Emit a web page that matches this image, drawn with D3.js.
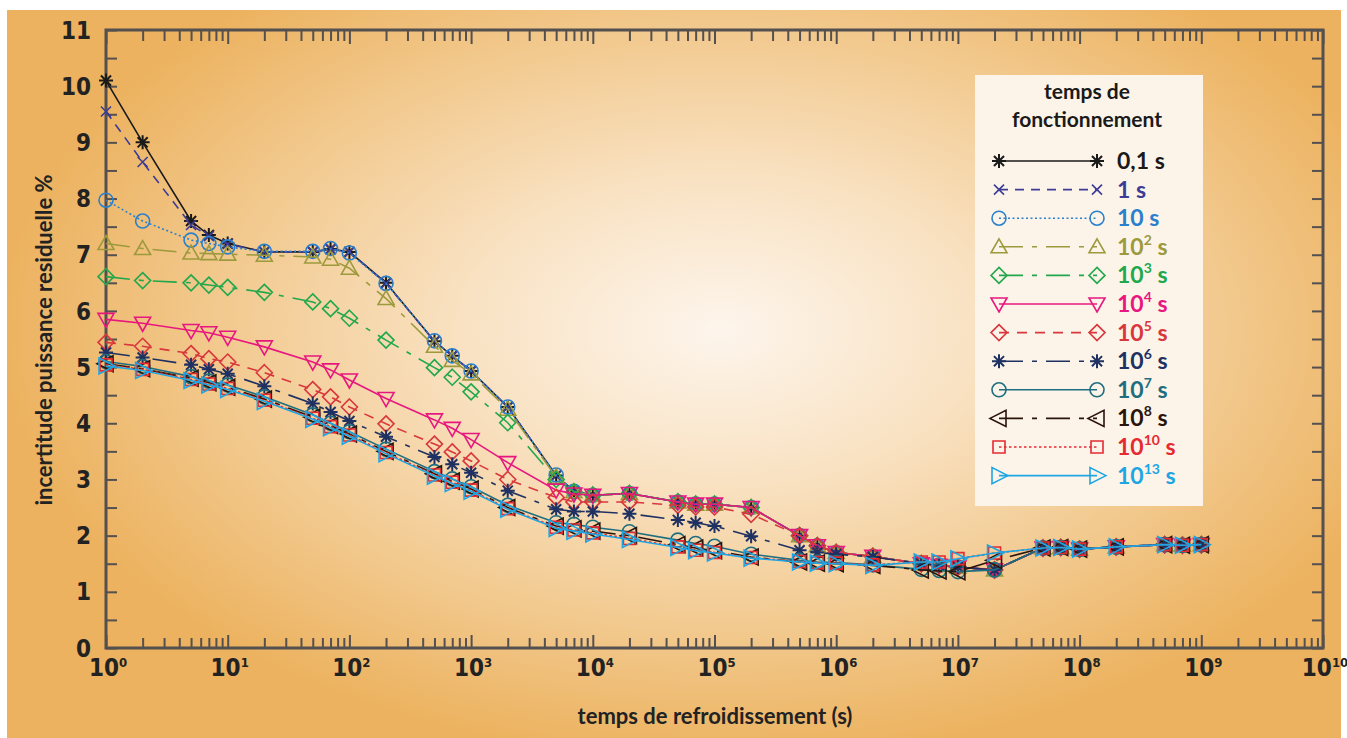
<!DOCTYPE html>
<html>
<head>
<meta charset="utf-8">
<script src="https://cdn.jsdelivr.net/npm/d3@7"></script>
<style>
  html, body { margin: 0; padding: 0; background: #fff; }
  svg { display: block; }
  .tick-lbl { font-family: "Liberation Sans Narrow", "DejaVu Sans Condensed", sans-serif; font-stretch: condensed; }
</style>
</head>
<body>
<div id="canvas"></div>
<script>
// cooling times (s)
const coolTimes = [1, 2, 5, 7, 10, 20, 50, 70, 100, 200, 500, 700, 1e3, 2e3, 5e3, 7e3, 1e4, 2e4, 5e4, 7e4,
  1e5, 2e5, 5e5, 7e5, 1e6, 2e6, 5e6, 7e6, 1e7, 2e7, 5e7, 7e7, 1e8, 2e8, 5e8, 7e8, 1e9];

// residual power uncertainty (%) for each operating time
const s01 = [10.1, 9.0, 7.6, 7.35, 7.2, 7.05, 7.05, 7.1, 7.05, 6.5, 5.46, 5.2, 4.93, 4.29, 3.07, 2.79, 2.72, 2.75, 2.6, 2.56,
  2.56, 2.5, 2.0, 1.82, 1.7, 1.63, 1.5, 1.47, 1.44, 1.39, 1.78, 1.79, 1.76, 1.8, 1.84, 1.83, 1.84];
const s1 = [9.55, 8.65, 7.53, 7.33, 7.19, 7.05, 7.05, 7.1, 7.05, 6.49, 5.46, 5.2, 4.93, 4.29, 3.07, 2.79, 2.72, 2.75, 2.6, 2.56,
  2.56, 2.5, 2.0, 1.82, 1.7, 1.63, 1.5, 1.47, 1.44, 1.39, 1.78, 1.79, 1.76, 1.8, 1.84, 1.83, 1.84];
const s10 = [7.97, 7.6, 7.26, 7.2, 7.14, 7.06, 7.06, 7.11, 7.03, 6.49, 5.47, 5.2, 4.93, 4.29, 3.08, 2.79, 2.72, 2.75, 2.6, 2.56,
  2.56, 2.5, 2.0, 1.82, 1.7, 1.63, 1.5, 1.47, 1.44, 1.39, 1.78, 1.79, 1.76, 1.8, 1.84, 1.83, 1.84];
const s1e2 = [7.2, 7.11, 7.03, 7.02, 7.01, 6.99, 6.96, 6.92, 6.76, 6.22, 5.37, 5.12, 4.88, 4.25, 3.04, 2.78, 2.72, 2.75, 2.6, 2.56,
  2.56, 2.5, 2.0, 1.82, 1.7, 1.63, 1.5, 1.47, 1.44, 1.39, 1.78, 1.79, 1.76, 1.8, 1.84, 1.83, 1.84];
const s1e3 = [6.61, 6.54, 6.5, 6.46, 6.42, 6.33, 6.16, 6.04, 5.87, 5.48, 4.99, 4.82, 4.56, 4.01, 3.0, 2.78, 2.72, 2.75, 2.6, 2.56,
  2.56, 2.5, 2.0, 1.82, 1.7, 1.63, 1.5, 1.47, 1.44, 1.39, 1.78, 1.79, 1.76, 1.8, 1.84, 1.83, 1.84];
const s1e4 = [5.85, 5.78, 5.65, 5.61, 5.53, 5.36, 5.09, 4.95, 4.77, 4.44, 4.06, 3.91, 3.71, 3.3, 2.81, 2.74, 2.72, 2.75, 2.6, 2.56,
  2.56, 2.5, 2.0, 1.82, 1.7, 1.63, 1.5, 1.47, 1.44, 1.39, 1.78, 1.79, 1.76, 1.8, 1.84, 1.83, 1.84];
const s1e5 = [5.44, 5.37, 5.24, 5.15, 5.09, 4.9, 4.6, 4.47, 4.29, 3.99, 3.63, 3.49, 3.33, 3.0, 2.68, 2.6, 2.6, 2.6, 2.54, 2.51,
  2.51, 2.38, 2.0, 1.82, 1.7, 1.63, 1.5, 1.47, 1.44, 1.39, 1.78, 1.79, 1.76, 1.8, 1.84, 1.83, 1.84];
const s1e6 = [5.26, 5.17, 5.04, 4.96, 4.88, 4.66, 4.35, 4.2, 4.04, 3.76, 3.4, 3.27, 3.12, 2.8, 2.47, 2.43, 2.43, 2.39, 2.28, 2.23,
  2.17, 1.99, 1.74, 1.7, 1.67, 1.62, 1.5, 1.47, 1.44, 1.39, 1.78, 1.79, 1.76, 1.8, 1.84, 1.83, 1.84];
const s1e7 = [5.1, 5.01, 4.83, 4.75, 4.68, 4.47, 4.15, 4.0, 3.85, 3.54, 3.14, 3.01, 2.87, 2.54, 2.23, 2.2, 2.15, 2.07, 1.92, 1.86,
  1.81, 1.67, 1.56, 1.53, 1.52, 1.48, 1.4, 1.38, 1.36, 1.39, 1.78, 1.79, 1.76, 1.8, 1.84, 1.83, 1.84];
const s1e8 = [5.06, 4.97, 4.8, 4.72, 4.64, 4.43, 4.11, 3.96, 3.81, 3.5, 3.1, 2.97, 2.83, 2.5, 2.17, 2.12, 2.08, 2.0, 1.84, 1.78,
  1.73, 1.62, 1.53, 1.51, 1.5, 1.47, 1.39, 1.37, 1.36, 1.56, 1.78, 1.79, 1.76, 1.8, 1.84, 1.83, 1.84];
const s1e10 = [5.04, 4.96, 4.78, 4.7, 4.62, 4.41, 4.09, 3.94, 3.79, 3.48, 3.08, 2.95, 2.81, 2.48, 2.15, 2.1, 2.05, 1.95, 1.8, 1.74,
  1.7, 1.61, 1.54, 1.52, 1.51, 1.48, 1.53, 1.53, 1.59, 1.69, 1.78, 1.79, 1.76, 1.8, 1.84, 1.83, 1.84];
const s1e13 = [5.02, 4.94, 4.76, 4.68, 4.6, 4.39, 4.07, 3.92, 3.77, 3.46, 3.06, 2.93, 2.79, 2.47, 2.13, 2.08, 2.03, 1.93, 1.79, 1.73,
  1.69, 1.6, 1.53, 1.51, 1.5, 1.47, 1.53, 1.53, 1.59, 1.69, 1.78, 1.79, 1.76, 1.8, 1.84, 1.83, 1.84];

// legend labels: base + exponent
const labelBase = ["0,1", "1", "10", "10", "10", "10", "10", "10", "10", "10", "10", "10"];
const labelExp = ["", "", "", "2", "3", "4", "5", "6", "7", "8", "10", "13"];

const yTicks = [0, 1, 2, 3, 4, 5, 6, 7, 8, 9, 10, 11];
const xDecades = [0, 1, 2, 3, 4, 5, 6, 7, 8, 9, 10];

// styles
const series = [
  { values: s01, color: "#1a1a1a", dash: null, sym: "star" },
  { values: s1, color: "#3c3c96", dash: "9,7", sym: "cross" },
  { values: s10, color: "#2a80cc", dash: "2,2.5", sym: "circle" },
  { values: s1e2, color: "#9c9a3c", dash: "24,9,5,9", sym: "triUp" },
  { values: s1e3, color: "#22a84c", dash: "24,9,5,9", sym: "diamond" },
  { values: s1e4, color: "#e8177f", dash: null, sym: "triDown" },
  { values: s1e5, color: "#d9373c", dash: "10,8", sym: "diamond" },
  { values: s1e6, color: "#1f3162", dash: "24,9,5,9", sym: "star" },
  { values: s1e7, color: "#1f6e80", dash: null, sym: "circle" },
  { values: s1e8, color: "#2b140a", dash: "24,9,5,9", sym: "triLeft" },
  { values: s1e10, color: "#e52a30", dash: "2.5,2.5", sym: "square" },
  { values: s1e13, color: "#1ea6e4", dash: null, sym: "triRight" },
];

function symPath(type) {
  const r = 7;
  switch (type) {
    case "star": {
      const d = r * 0.72;
      return `M${-r},0L${r},0M0,${-r}L0,${r}M${-d},${-d}L${d},${d}M${-d},${d}L${d},${-d}`;
    }
    case "cross": return `M-5,-5L5,5M-5,5L5,-5`;
    case "circle": return `M${r},0A${r},${r} 0 1,1 ${-r},0A${r},${r} 0 1,1 ${r},0Z`;
    case "triUp": return `M0,-8L8,6L-8,6Z`;
    case "triDown": return `M0,8L8,-6L-8,-6Z`;
    case "triLeft": return `M-9,0L7,-8L7,8Z`;
    case "triRight": return `M9,0L-7,-8L-7,8Z`;
    case "diamond": return `M0,-8L8,0L0,8L-8,0Z`;
    case "square": return `M-6,-6L6,-6L6,6L-6,6Z`;
  }
}

const W = 1347, H = 738;
const margin = { left: 106, right: 1323, top: 30, bottom: 648 };

const svg = d3.select("#canvas").append("svg").attr("width", W).attr("height", H);

// background
const defs = svg.append("defs");
const grad = defs.append("radialGradient")
  .attr("id", "bg")
  .attr("gradientUnits", "userSpaceOnUse")
  .attr("cx", 0).attr("cy", 0).attr("r", 1)
  .attr("gradientTransform", "translate(720,330) scale(720,430)");
grad.append("stop").attr("offset", 0).attr("stop-color", "#fdf5ec");
grad.append("stop").attr("offset", 0.35).attr("stop-color", "#f9e2c3");
grad.append("stop").attr("offset", 0.7).attr("stop-color", "#f2c98e");
grad.append("stop").attr("offset", 1).attr("stop-color", "#ecb25f");
svg.append("rect").attr("x", 7).attr("y", 10).attr("width", 1334).attr("height", 728).attr("fill", "url(#bg)");

const x = d3.scaleLog().domain([1, 1e10]).range([margin.left, margin.right]);
const y = d3.scaleLinear().domain([0, 11]).range([margin.bottom, margin.top]);

const majors = xDecades.map(d => Math.pow(10, d));
const minors = [];
for (let d = 0; d < 10; d++) for (let k = 2; k <= 9; k++) minors.push(k * Math.pow(10, d));
const halfTicks = d3.range(0, 11.01, 0.5);

const axisColor = "#555050";
function styleAxis(g) {
  g.select(".domain").remove();
  g.selectAll(".tick line").attr("stroke", axisColor).attr("stroke-width", 2);
}

// bottom ticks (pointing up)
svg.append("g").attr("transform", `translate(0,${margin.bottom})`)
  .call(d3.axisTop(x).tickValues(minors).tickSize(10).tickFormat(""))
  .call(styleAxis);
svg.append("g").attr("transform", `translate(0,${margin.bottom})`)
  .call(d3.axisTop(x).tickValues(majors).tickSize(13).tickFormat(""))
  .call(styleAxis);
// top ticks (pointing down)
svg.append("g").attr("transform", `translate(0,${margin.top})`)
  .call(d3.axisBottom(x).tickValues(minors).tickSize(11).tickFormat(""))
  .call(styleAxis);
svg.append("g").attr("transform", `translate(0,${margin.top})`)
  .call(d3.axisBottom(x).tickValues(majors).tickSize(14).tickFormat(""))
  .call(styleAxis);
// left / right ticks
svg.append("g").attr("transform", `translate(${margin.left},0)`)
  .call(d3.axisRight(y).tickValues(halfTicks).tickSize(11).tickFormat(""))
  .call(styleAxis);
svg.append("g").attr("transform", `translate(${margin.right},0)`)
  .call(d3.axisLeft(y).tickValues(halfTicks).tickSize(11).tickFormat(""))
  .call(styleAxis);

// frame
svg.append("rect")
  .attr("x", margin.left).attr("y", margin.top)
  .attr("width", margin.right - margin.left).attr("height", margin.bottom - margin.top)
  .attr("fill", "none").attr("stroke", axisColor).attr("stroke-width", 3);

// y labels
svg.append("g").selectAll("text").data(yTicks).join("text")
  .attr("class", "tick-lbl")
  .attr("x", 91).attr("y", d => y(d))
  .attr("dy", "0.36em")
  .attr("text-anchor", "end")
  .attr("font-size", 24).attr("font-weight", "bold").attr("fill", "#222")
  .text(d => d);

// x labels 10^n
const xl = svg.append("g").selectAll("text").data(xDecades).join("text")
  .attr("class", "tick-lbl")
  .attr("x", d => x(Math.pow(10, d)) + 2)
  .attr("y", 676)
  .attr("text-anchor", "middle")
  .attr("font-size", 24).attr("font-weight", "bold").attr("fill", "#222");
xl.append("tspan").text("10");
xl.append("tspan").attr("dy", -9).attr("font-size", 13).text(d => d);

// axis titles
const titleFont = "Lato, 'Open Sans', sans-serif";
svg.append("text")
  .attr("transform", `translate(52,340) rotate(-90)`)
  .attr("text-anchor", "middle")
  .attr("font-family", titleFont).attr("font-size", 22).attr("font-weight", "bold").attr("fill", "#222")
  .text("incertitude puissance residuelle %");
svg.append("text")
  .attr("x", 715).attr("y", 724)
  .attr("text-anchor", "middle")
  .attr("font-family", titleFont).attr("font-size", 22).attr("font-weight", "bold").attr("fill", "#222")
  .text("temps de refroidissement (s)");

// series
const line = d3.line().x(d => x(d[0])).y(d => y(d[1]));
const plot = svg.append("g");
series.forEach(s => {
  const pts = coolTimes.map((t, i) => [t, s.values[i]]);
  const g = plot.append("g");
  g.append("path")
    .attr("d", line(pts))
    .attr("fill", "none")
    .attr("stroke", s.color)
    .attr("stroke-width", 1.6)
    .attr("stroke-dasharray", s.dash);
  g.selectAll("path.m").data(pts).join("path")
    .attr("class", "m")
    .attr("transform", d => `translate(${x(d[0])},${y(d[1])})`)
    .attr("d", symPath(s.sym))
    .attr("fill", "none")
    .attr("stroke", s.color)
    .attr("stroke-width", s.sym === "star" ? 2 : 1.6);
});

// legend
const lg = svg.append("g");
lg.append("rect").attr("x", 975).attr("y", 75).attr("width", 228).attr("height", 431).attr("fill", "#fdf4e9");
const legFont = "Lato, 'Noto Sans', sans-serif";
lg.append("text").attr("x", 1087).attr("y", 99).attr("text-anchor", "middle")
  .attr("font-family", legFont).attr("font-size", 21).attr("font-weight", "bold").attr("fill", "#1a1a1a")
  .text("temps de");
lg.append("text").attr("x", 1087).attr("y", 127).attr("text-anchor", "middle")
  .attr("font-family", legFont).attr("font-size", 21).attr("font-weight", "bold").attr("fill", "#1a1a1a")
  .text("fonctionnement");

series.forEach((s, i) => {
  const ly = 161 + i * 28.6;
  const g = lg.append("g");
  g.append("line").attr("x1", 999).attr("x2", 1097).attr("y1", ly).attr("y2", ly)
    .attr("stroke", s.color).attr("stroke-width", 1.6).attr("stroke-dasharray", s.dash);
  [999, 1097].forEach(px => {
    g.append("path").attr("transform", `translate(${px},${ly})`).attr("d", symPath(s.sym))
      .attr("fill", "none").attr("stroke", s.color).attr("stroke-width", s.sym === "star" ? 2 : 1.6);
  });
  const t = g.append("text").attr("x", 1117).attr("y", ly + 8)
    .attr("font-family", legFont).attr("font-size", 23).attr("font-weight", "bold").attr("fill", s.color);
  t.append("tspan").text(labelBase[i]);
  if (labelExp[i]) t.append("tspan").attr("dy", -10).attr("font-size", 14).text(labelExp[i]);
  t.append("tspan").attr("dy", labelExp[i] ? 10 : 0).text(" s");
});
</script>
</body>
</html>
